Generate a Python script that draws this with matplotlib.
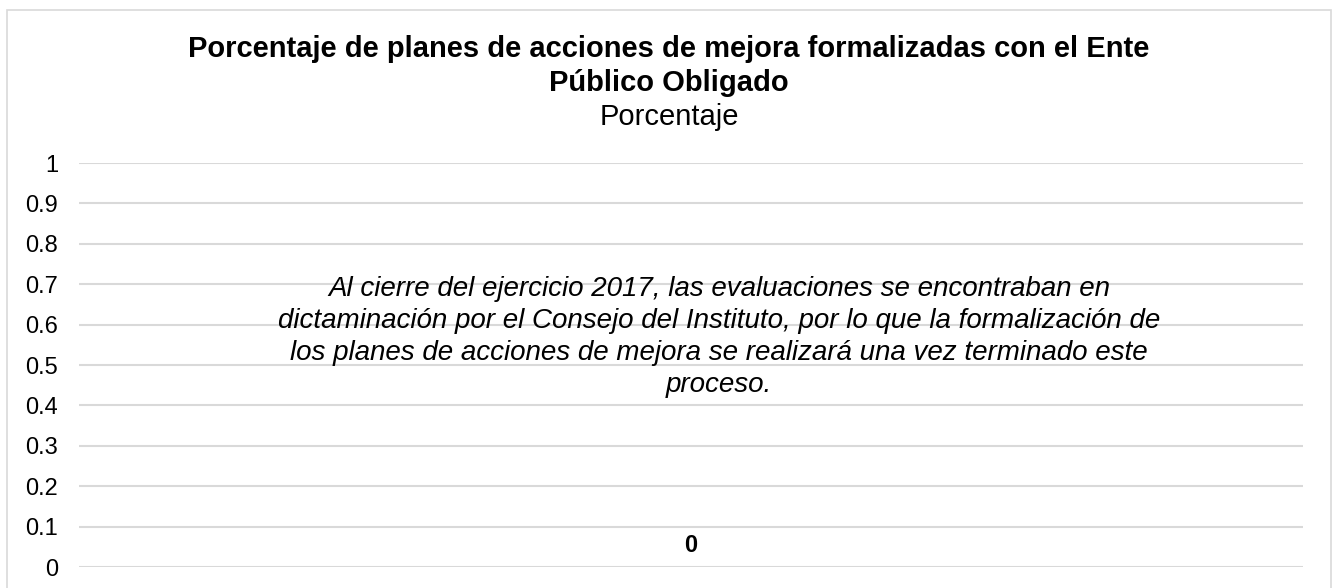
import matplotlib
matplotlib.use("Agg")
import matplotlib.pyplot as plt
from matplotlib.patches import Rectangle

# Data
categories = [""]
values = [0]
y_ticks = [0, 0.1, 0.2, 0.3, 0.4, 0.5, 0.6, 0.7, 0.8, 0.9, 1]
y_tick_labels = ["0", "0.1", "0.2", "0.3", "0.4", "0.5", "0.6", "0.7", "0.8", "0.9", "1"]
title_lines = ["Porcentaje de planes de acciones de mejora formalizadas con el Ente",
               "Público Obligado"]
subtitle = "Porcentaje"
note_lines = ["Al cierre del ejercicio 2017, las evaluaciones se encontraban en",
              "dictaminación por el Consejo del Instituto, por lo que la formalización de",
              "los planes de acciones de mejora se realizará una vez terminado este",
              "proceso."]

plt.rcParams['font.family'] = ['Liberation Sans', 'DejaVu Sans']

W, H = 1332, 588
fig = plt.figure(figsize=(W / 100, H / 100), dpi=100)
fig.patch.set_facecolor("white")

def fx(px):
    return px / W

def fy(py):
    return 1 - py / H

# Border
fig.patches.append(Rectangle((fx(7), fy(600)), fx(1331) - fx(7), fy(10) - fy(600),
                             transform=fig.transFigure, fill=False,
                             edgecolor="#d9d9d9", linewidth=1.2))

ax = fig.add_axes([fx(79), fy(567), fx(1303) - fx(79), fy(163) - fy(567)])
bars = ax.bar(categories, values, width=0.6, color="#4472c4")
ax.set_ylim(0, 1)
ax.set_xlim(-0.5, 0.5)
ax.set_yticks(y_ticks)
ax.set_yticklabels(y_tick_labels, fontsize=17, color="#000000")
ax.tick_params(axis="y", length=0, pad=15)
ax.set_xticks([])
for s in ax.spines.values():
    s.set_visible(False)
ax.yaxis.grid(True, color="#d9d9d9", linewidth=1.5)
ax.set_axisbelow(True)

for b, v in zip(bars, values):
    ax.annotate(f"{v}", (b.get_x() + b.get_width() / 2, v), xytext=(0, 11),
                textcoords="offset points", ha="center", va="baseline",
                fontsize=17, fontweight="bold", color="#000000")

# Title
fig.text(fx(669), fy(57), title_lines[0], ha="center", va="baseline",
         fontsize=21, fontweight="bold", color="#000000")
fig.text(fx(669), fy(91), title_lines[1], ha="center", va="baseline",
         fontsize=21, fontweight="bold", color="#000000")
fig.text(fx(669), fy(125), subtitle, ha="center", va="baseline",
         fontsize=21, color="#000000")

# Note
baselines = [296, 328, 360, 392]
for line, by in zip(note_lines, baselines):
    fig.text(fx(719), fy(by), line, ha="center", va="baseline",
             fontsize=20, fontstyle="italic", color="#000000")

fig.savefig("out.png", dpi=100)
